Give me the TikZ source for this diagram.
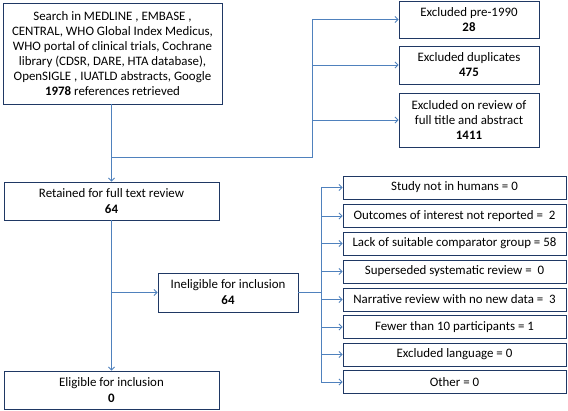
\documentclass[tikz,border=0pt]{standalone}
\usepackage{fontspec}
\setmainfont{Carlito}
\usetikzlibrary{arrows.meta}
\definecolor{boxc}{HTML}{1F3864}
\definecolor{linec}{HTML}{4F81BD}
\begin{document}
\begin{tikzpicture}[x=1pt,y=-1pt,
  box/.style={draw=boxc,line width=0.9pt,fill=white,inner sep=0pt,align=center,
    font=\fontsize{12.9}{15}\selectfont},
  conn/.style={draw=linec,line width=0.9pt},
  arr/.style={conn,-{Straight Barb[length=3pt,width=6pt]}}]
\useasboundingbox (0,0) rectangle (568,410);
% boxes
\node[box,minimum width=219pt,minimum height=101pt] (search) at (112.5,53.5)
 {Search in MEDLINE , EMBASE ,\\CENTRAL, WHO Global Index Medicus,\\WHO portal of clinical trials, Cochrane\\library (CDSR, DARE, HTA database),\\OpenSIGLE , IUATLD abstracts, Google\\\textbf{1978} references retrieved};
\node[box,minimum width=140pt,minimum height=37pt] (ex1) at (469,19.5) {Excluded pre-1990\\\textbf{28}};
\node[box,minimum width=140pt,minimum height=38pt] (ex2) at (469,65) {Excluded duplicates\\\textbf{475}};
\node[box,minimum width=140pt,minimum height=54pt] (ex3) at (469,120) {Excluded on review of\\full title and abstract\\\textbf{1411}};
\node[box,minimum width=215pt,minimum height=38pt,font=\fontsize{12.9}{16}\selectfont] (ret) at (111.5,201) {Retained for full text review\\\textbf{64}};
\node[box,minimum width=215pt,minimum height=38pt,font=\fontsize{12.9}{16}\selectfont] (elig) at (111.5,390) {Eligible for inclusion\\\textbf{0}};
\node[box,minimum width=140pt,minimum height=39pt,font=\fontsize{12.9}{16}\selectfont] (inel) at (228,292.5) {Ineligible for inclusion\\\textbf{64}};
\foreach \n/\y/\t in {r1/187.5/{Study not in humans = 0},
  r2/216/{Outcomes of interest not reported =~ 2},
  r3/243.5/{Lack of suitable comparator group = 58},
  r4/271.5/{Superseded systematic review =~ 0},
  r5/299.5/{Narrative review with no new data =~ 3},
  r6/327/{Fewer than 10 participants = 1},
  r7/354.5/{Excluded language = 0},
  r8/382/{Other = 0}}
  \node[box,minimum width=223pt,minimum height=23pt] (\n) at (454.5,\y) {\t};
% connectors top
\coordinate (j1) at (ret.north |- 0,157);
\coordinate (t1) at (312,157);
\coordinate (t2) at (312,19.5);
\coordinate (t3) at (312,65);
\coordinate (t4) at (312,120);
\draw[arr] (search.south -| ret.north) -- (ret.north);
\draw[conn] (j1) -- (t1) -- (t2);
\draw[arr] (t2) -- (ex1.west);
\draw[arr] (t3) -- (ex2.west);
\draw[arr] (t4) -- (ex3.west);
% lower
\coordinate (j2) at (ret.south |- inel.west);
\draw[arr] (ret.south) -- (elig.north);
\draw[arr] (j2) -- (inel.west);
\coordinate (s0) at (321,292.5);
\coordinate (s1) at (321,187.5);
\coordinate (s8) at (321,382);
\draw[conn] (inel.east) -- (s0);
\draw[conn] (s1) -- (s8);
\foreach \n in {r1,r2,r3,r4,r5,r6,r7,r8}
  \draw[arr] (s1 |- \n.west) -- (\n.west);
\end{tikzpicture}
\end{document}
